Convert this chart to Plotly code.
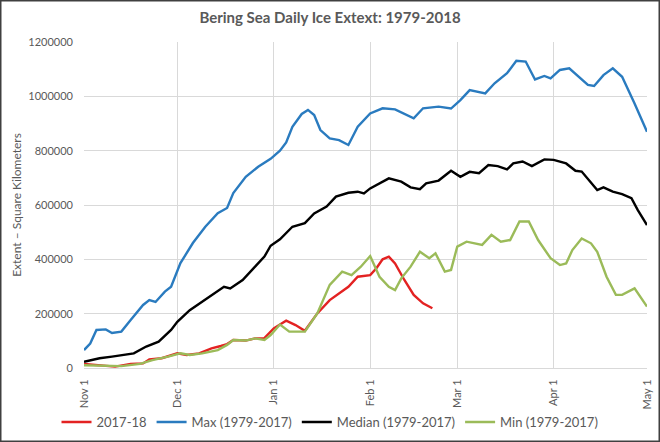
import pandas as pd
import plotly.graph_objects as go

# Season start; all x values are day offsets from Nov 1
season_start = pd.Timestamp("2017-11-01")

# 2017-18 season (red)
season_days = [0, 5, 10, 15, 19, 21, 25, 30, 33, 37, 41, 44, 46, 48, 52, 55, 58,
               61, 65, 68, 71, 75, 79, 85, 88, 92, 94, 96, 98, 100, 103, 106, 109, 112]
season_vals = [15000, 11000, 5000, 15000, 17000, 32000, 36000, 54000, 48000, 54000,
               72000, 81000, 88000, 103000, 101000, 109000, 110000, 146000, 174000,
               158000, 137000, 201000, 250000, 299000, 336000, 342000, 367000, 400000,
               410000, 385000, 324000, 269000, 238000, 220000]

# Max (1979-2017) (blue)
max_days = [0, 2, 4, 7, 9, 12, 15, 19, 21, 23, 26, 28, 31, 35, 39, 43, 46, 48, 52, 56,
            60, 63, 65, 67, 70, 72, 74, 76, 79, 82, 85, 88, 92, 96, 100, 103, 106, 109,
            114, 118, 121, 124, 129, 132, 136, 139, 142, 145, 148, 150, 153, 156, 159,
            162, 164, 167, 170, 173, 177, 181]
max_vals = [66000, 90000, 140000, 142000, 129000, 134000, 177000, 232000, 250000,
            243000, 281000, 299000, 386000, 460000, 520000, 570000, 589000, 644000,
            704000, 741000, 770000, 800000, 830000, 888000, 935000, 950000, 931000,
            876000, 845000, 839000, 821000, 888000, 937000, 956000, 952000, 937000,
            919000, 956000, 962000, 955000, 986000, 1023000, 1011000, 1048000, 1085000,
            1131000, 1128000, 1062000, 1075000, 1066000, 1097000, 1103000, 1072000,
            1042000, 1038000, 1078000, 1103000, 1072000, 974000, 870000]

# Median (1979-2017) (black)
median_days = [0, 5, 9, 13, 16, 20, 24, 28, 30, 34, 38, 42, 45, 47, 51, 55, 58, 60, 63,
               67, 71, 74, 78, 81, 85, 88, 90, 92, 95, 98, 102, 105, 108, 110, 114, 118,
               121, 124, 127, 130, 133, 136, 138, 141, 144, 148, 151, 155, 158, 160, 165,
               167, 170, 173, 176, 178, 181]
median_vals = [23000, 36000, 42000, 48000, 54000, 79000, 97000, 140000, 170000, 213000,
               244000, 275000, 299000, 293000, 324000, 373000, 410000, 450000, 474000,
               520000, 533000, 569000, 594000, 631000, 645000, 649000, 643000, 661000,
               680000, 698000, 686000, 665000, 658000, 680000, 690000, 726000, 704000,
               722000, 717000, 747000, 743000, 731000, 753000, 760000, 743000, 768000,
               766000, 753000, 726000, 723000, 655000, 665000, 649000, 640000, 625000,
               582000, 526000]

# Min (1979-2017) (green)
min_days = [0, 5, 12, 18, 22, 27, 31, 34, 38, 43, 46, 48, 52, 55, 58, 60, 63, 66, 71,
            75, 79, 83, 86, 89, 92, 95, 98, 100, 102, 105, 108, 111, 113, 116, 118, 120,
            123, 128, 131, 134, 137, 140, 143, 146, 150, 153, 155, 157, 160, 163, 165,
            168, 171, 173, 177, 181]
min_vals = [10000, 8000, 7000, 15000, 29000, 42000, 54000, 48000, 54000, 66000, 85000,
            103000, 101000, 109000, 103000, 121000, 160000, 134000, 134000, 201000,
            306000, 355000, 342000, 373000, 412000, 336000, 299000, 287000, 330000,
            373000, 428000, 404000, 422000, 355000, 361000, 447000, 465000, 453000,
            490000, 465000, 471000, 539000, 539000, 471000, 404000, 379000, 385000,
            434000, 477000, 459000, 428000, 336000, 269000, 269000, 293000, 226000]

# Axis ticks
tick_dates = ["2017-11-01", "2017-12-01", "2018-01-01", "2018-02-01",
              "2018-03-01", "2018-04-01", "2018-05-01"]
tick_labels = ["Nov 1", "Dec 1", "Jan 1", "Feb 1", "Mar 1", "Apr 1", "May 1"]

series = [
    ("2017-18", season_days, season_vals, "#e32222"),
    ("Max (1979-2017)", max_days, max_vals, "#2a7bbf"),
    ("Median (1979-2017)", median_days, median_vals, "#000000"),
    ("Min (1979-2017)", min_days, min_vals, "#9bbb59"),
]

fig = go.Figure()
for name, days, vals, color in series:
    dates = season_start + pd.to_timedelta(days, unit="D")
    fig.add_trace(go.Scatter(x=dates, y=vals, mode="lines", name=name,
                             line=dict(color=color, width=2.4)))

W, H = 660, 442
L, R, T, B = 84, 13, 42, 74
plot_w, plot_h = W - L - R, H - T - B
text_grey = "#595959"
grid_grey = "#d9d9d9"

fig.update_layout(
    width=W, height=H,
    margin=dict(l=L, r=R, t=T, b=B),
    paper_bgcolor="white", plot_bgcolor="white",
    font=dict(family="Lato", color=text_grey),
    title=dict(text="<b>Bering Sea Daily Ice Extext: 1979-2018</b>",
               x=0.5, xref="container", xanchor="center",
               y=1 - 18 / H, yref="container", yanchor="middle",
               font=dict(size=15, color=text_grey)),
    legend=dict(orientation="h", x=0.5, xref="container", xanchor="center",
                y=1 - 422 / H, yref="container", yanchor="middle",
                font=dict(size=13, color=text_grey), itemwidth=30,
                bgcolor="rgba(0,0,0,0)"),
    showlegend=True,
)

fig.update_xaxes(
    type="date", automargin=False,
    range=[tick_dates[0], tick_dates[-1]],
    tickmode="array", tickvals=tick_dates, ticktext=tick_labels,
    tickangle=-90, tickfont=dict(size=11, color=text_grey),
    ticklabelstandoff=6,
    showgrid=True, gridcolor=grid_grey, gridwidth=1,
    showline=True, linecolor=grid_grey, zeroline=False,
)

fig.update_yaxes(
    automargin=False,
    range=[0, 1200000], dtick=200000, tickformat="d",
    tickfont=dict(size=11, color=text_grey), ticklabelstandoff=10,
    showgrid=True, gridcolor=grid_grey, gridwidth=1,
    zeroline=False, showline=False,
    title=dict(text="Extent – Square Kilometers", font=dict(size=12, color=text_grey),
               standoff=4),
)

# dark frame round the whole picture
fig.add_shape(type="rect", xref="paper", yref="paper",
              x0=-L / plot_w, x1=1 + R / plot_w, y0=-B / plot_h, y1=1 + T / plot_h,
              line=dict(color="#404040", width=3), layer="above")

# page has a default 8px body margin; drop it so the figure fills the window
fig.write_html("out.html", config={"displayModeBar": False},
               post_script="document.body.style.margin='0';")
